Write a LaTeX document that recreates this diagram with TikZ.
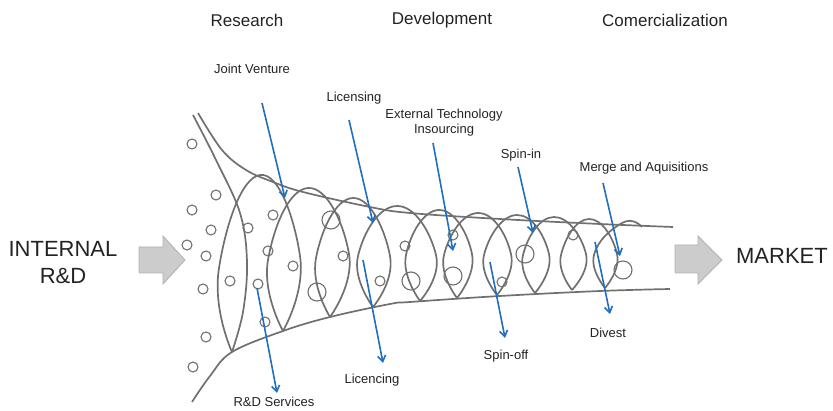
\documentclass[tikz,border=0pt]{standalone}
\usepackage{fontspec}
\setmainfont{Liberation Sans}
\usetikzlibrary{arrows.meta}

\definecolor{linegray}{RGB}{112,112,112}
\definecolor{flowblue}{RGB}{33,110,190}
\definecolor{txt}{RGB}{35,35,35}

\tikzset{
  funnel/.style={draw=linegray,line width=1.7pt},
  bubble/.style={draw=linegray,line width=1.1pt},
  flow/.style={draw=flowblue,line width=1.6pt,-{Straight Barb[length=6pt,width=8pt]}},
  phase/.style={text=txt,font=\fontsize{17}{19}\selectfont},
  side/.style={text=txt,font=\fontsize{22}{27}\selectfont,align=center},
  tag/.style={text=txt,font=\fontsize{13}{15}\selectfont,align=center,inner sep=0pt},
  block/.style={fill=black!20,draw=black!30,line width=0.8pt}
}

\begin{document}
\begin{tikzpicture}[x=1pt,y=-1pt]
  \useasboundingbox (0,0) rectangle (833,411);

  % Phases
  \node[phase] (research) at (247,20) {Research};
  \node[phase] (devel) at (442,20) {Development};
  \node[phase] (comm) at (665,20) {Comercialization};

  % Left and right ends
  \node[side] (internal) at (63,263) {INTERNAL\\R\&D};
  \node[side] (market) at (782,256) {MARKET};
  \draw[block] (139,247) -- (163,247) -- (163,236) -- (185,260)
    -- (163,284) -- (163,273) -- (139,273) -- cycle;
  \draw[block] (675,245) -- (698,245) -- (698,236) -- (722,260)
    -- (698,284) -- (698,273) -- (675,273) -- cycle;

  % Funnel walls
  \draw[funnel] plot[smooth,tension=0.6] coordinates {(198,113) (222,150)
    (246,170) (273,182) (303,192) (370,207) (410,213) (500,219) (600,224) (673,227)};
  \draw[funnel] plot[smooth,tension=0.6] coordinates {(192,402) (210,376)
    (232,352) (283,331) (330,317) (390,304) (410,302) (500,296) (600,291) (670,289)};
  \draw[funnel] plot[smooth,tension=0.6] coordinates {(193,115) (216,160)
    (240,213) (247,262) (243,312) (232,352)};

  % Coils: foot / left bulge / top / right bulge / next foot
  \foreach \ax/\ay/\lx/\ly/\tx/\ty/\rx/\ry/\bx/\by in {
    232/352/219/268/260/175/300/256/283/331,
    283/331/268/260/308/188/349/254/330/317,
    330/317/316/258/353/198/390/256/373/307,
    373/307/358/256/397/206/436/255/420/301,
    420/301/406/255/439/210/472/254/457/298,
    457/298/444/255/478/213/511/254/497/295,
    497/295/484/255/517/215/549/254/535/293,
    535/293/523/255/554/217/586/254/572/290,
    572/290/561/255/589/219/617/254/605/288}
    \draw[funnel] plot[smooth,tension=0.85] coordinates
      {(\ax,\ay) (\lx,\ly) (\tx,\ty) (\rx,\ry) (\bx,\by)};
  % last half coil
  \draw[funnel] plot[smooth,tension=0.85] coordinates {(605,288) (594,255) (622,223) (642,227)};

  % Bubbles outside
  \foreach \cx/\cy in {192/144,216/195,192/210,211/230,187/245,206/256,
    203/289,206/337,193/367}
    \draw[bubble] (\cx,\cy) circle (5pt);
  % Bubbles inside
  \foreach \cx/\cy in {248/228,273/215,268/251,293/266,230/281,258/284,
    265/322,343/256,380/281,405/246,453/235,502/282,573/235}
    \draw[bubble] (\cx,\cy) circle (5pt);
  \foreach \cx/\cy in {331/220,317/292,411/281,453/276,525/254,623/270}
    \draw[bubble] (\cx,\cy) circle (9pt);

  % Inflows
  \node[tag] (jv) at (252,69) {Joint Venture};
  \node[tag] (lic) at (354,98) {Licensing};
  \node[tag] (eti) at (444,123) {External Technology\\Insourcing};
  \node[tag] (spin) at (521,155) {Spin-in};
  \node[tag] (ma) at (644,168) {Merge and Aquisitions};
  \coordinate (jv-s) at (262,103);  \coordinate (jv-e) at (285,198);
  \coordinate (lic-s) at (349,120); \coordinate (lic-e) at (373,223);
  \coordinate (eti-s) at (433,143); \coordinate (eti-e) at (453,251);
  \coordinate (spin-s) at (518,167); \coordinate (spin-e) at (533,233);
  \coordinate (ma-s) at (603,183);  \coordinate (ma-e) at (620,256);
  \draw[flow] (jv-s) -- (jv-e);
  \draw[flow] (lic-s) -- (lic-e);
  \draw[flow] (eti-s) -- (eti-e);
  \draw[flow] (spin-s) -- (spin-e);
  \draw[flow] (ma-s) -- (ma-e);

  % Outflows
  \node[tag] (rds) at (274,402) {R\&D Services};
  \node[tag] (lic2) at (372,380) {Licencing};
  \node[tag] (soff) at (506,356) {Spin-off};
  \node[tag] (div) at (608,333) {Divest};
  \coordinate (rds-s) at (257,288);  \coordinate (rds-e) at (277,393);
  \coordinate (lic2-s) at (363,260); \coordinate (lic2-e) at (383,363);
  \coordinate (soff-s) at (490,262); \coordinate (soff-e) at (505,338);
  \coordinate (div-s) at (595,242);  \coordinate (div-e) at (610,314);
  \draw[flow] (rds-s) -- (rds-e);
  \draw[flow] (lic2-s) -- (lic2-e);
  \draw[flow] (soff-s) -- (soff-e);
  \draw[flow] (div-s) -- (div-e);
\end{tikzpicture}
\end{document}
